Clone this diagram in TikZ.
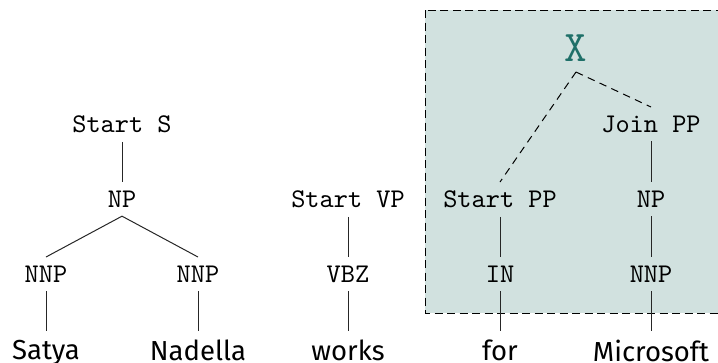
\documentclass[tikz,border=0pt]{standalone}
\usepackage{fontspec}
\newfontfamily\wordfont{Fira Sans}
\usepackage{xcolor}
\definecolor{boxfill}{RGB}{209, 225, 223}
\definecolor{xteal}{RGB}{31, 112, 105}

\tikzset{
  tag/.style={font=\fontsize{10.8}{12}\selectfont\ttfamily, anchor=north},
  word/.style={font=\fontsize{11}{13}\selectfont\wordfont, anchor=north},
  branch/.style={thin, black!85},
  link/.style={thin, dash pattern=on 3pt off 2.2pt}
}

\begin{document}
\begin{tikzpicture}[x=0.4pt, y=-0.4pt]
  \useasboundingbox (0,0) rectangle (718,362);

  % shaded region
  \draw[fill=boxfill, dash pattern=on 3.2pt off 1.8pt, thin] (425,10) rectangle (740,313);

  % first tree
  \node[tag] (startS) at (122,107) {Start S};
  \node[tag] (np1) at (122,182) {NP};
  \node[tag] (nnp1) at (46,257) {NNP};
  \node[tag] (nnp2) at (198,257) {NNP};
  \node[word] (satya) at (46,331) {Satya};
  \node[word] (nadella) at (198,331) {Nadella};
  \draw[branch] (startS) -- (np1);
  \draw[branch] (np1.south) -- (nnp1.north);
  \draw[branch] (np1.south) -- (nnp2.north);
  \draw[branch] (nnp1) -- (satya);
  \draw[branch] (nnp2) -- (nadella);

  % second tree
  \node[tag] (startVP) at (348,182) {Start VP};
  \node[tag] (vbz) at (348,257) {VBZ};
  \node[word] (works) at (348,331) {works};
  \draw[branch] (startVP) -- (vbz);
  \draw[branch] (vbz) -- (works);

  % joined subtree
  \node[font=\fontsize{17.5}{20}\selectfont\ttfamily, text=xteal, anchor=south, inner sep=4pt] (x) at (576,72) {X};
  \node[tag] (startPP) at (500,182) {Start PP};
  \node[tag] (in) at (500,257) {IN};
  \node[word] (for) at (500,331) {for};
  \node[tag] (joinPP) at (651,107) {Join PP};
  \node[tag] (np2) at (651,182) {NP};
  \node[tag] (nnp3) at (651,257) {NNP};
  \node[word] (microsoft) at (651,331) {Microsoft};
  \draw[link] (x.south) -- (startPP.north);
  \draw[link] (x.south) -- (joinPP.north);
  \draw[branch] (startPP) -- (in);
  \draw[branch] (in) -- (for);
  \draw[branch] (joinPP) -- (np2);
  \draw[branch] (np2) -- (nnp3);
  \draw[branch] (nnp3) -- (microsoft);
\end{tikzpicture}
\end{document}
